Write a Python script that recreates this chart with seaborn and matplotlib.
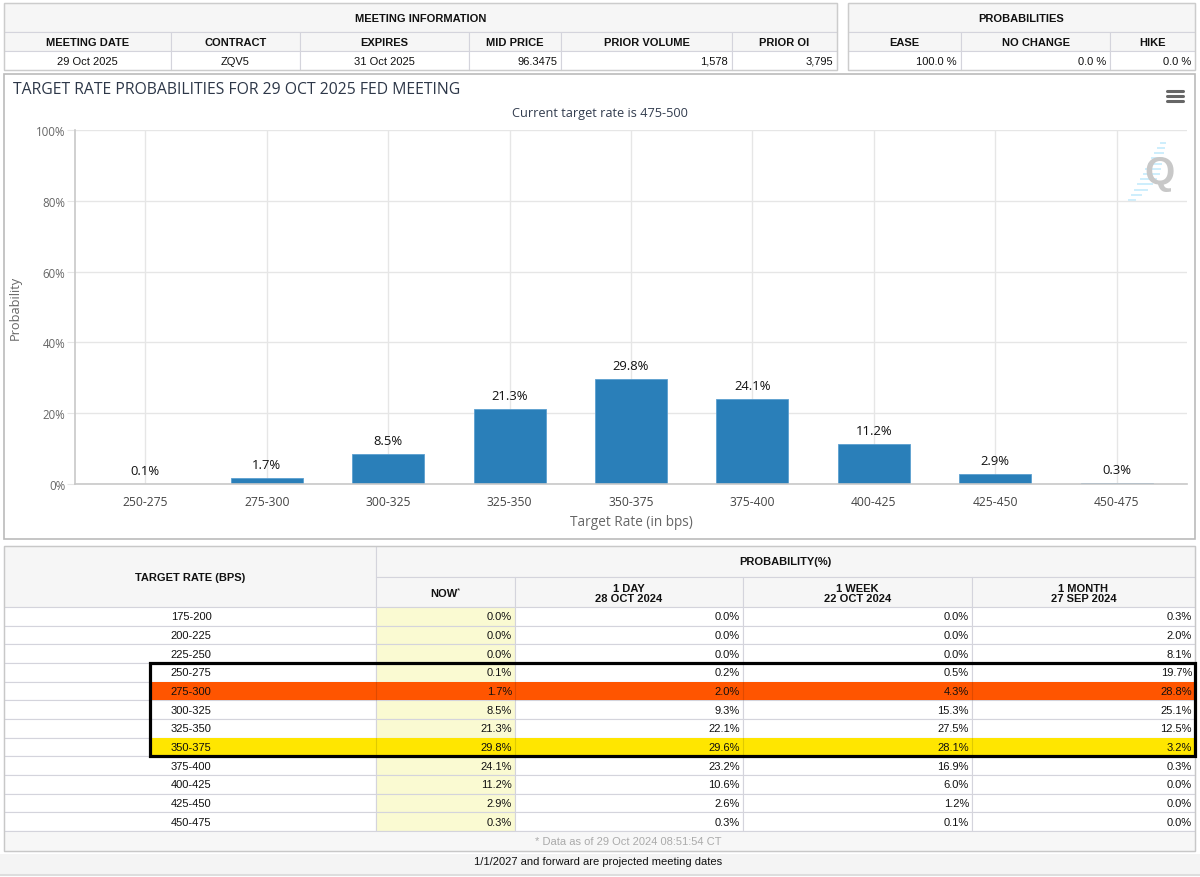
import matplotlib
matplotlib.use("Agg")
import matplotlib.pyplot as plt
import seaborn as sns
from matplotlib.patches import Rectangle

# ---------------- data ----------------
rate_bins = ["250-275", "275-300", "300-325", "325-350", "350-375",
             "375-400", "400-425", "425-450", "450-475"]
prob_now = [0.1, 1.7, 8.5, 21.3, 29.8, 24.1, 11.2, 2.9, 0.3]

table_bins = ["175-200", "200-225", "225-250", "250-275", "275-300", "300-325",
              "325-350", "350-375", "375-400", "400-425", "425-450", "450-475"]
tbl_now = [0.0, 0.0, 0.0, 0.1, 1.7, 8.5, 21.3, 29.8, 24.1, 11.2, 2.9, 0.3]
tbl_1day = [0.0, 0.0, 0.0, 0.2, 2.0, 9.3, 22.1, 29.6, 23.2, 10.6, 2.6, 0.3]
tbl_1week = [0.0, 0.0, 0.0, 0.5, 4.3, 15.3, 27.5, 28.1, 16.9, 6.0, 1.2, 0.1]
tbl_1month = [0.3, 2.0, 8.1, 19.7, 28.8, 25.1, 12.5, 3.2, 0.3, 0.0, 0.0, 0.0]

meeting_headers = ["MEETING DATE", "CONTRACT", "EXPIRES", "MID PRICE", "PRIOR VOLUME", "PRIOR OI"]
meeting_values = ["29 Oct 2025", "ZQV5", "31 Oct 2025", "96.3475", "1,578", "3,795"]
prob_headers = ["EASE", "NO CHANGE", "HIKE"]
prob_values = ["100.0 %", "0.0 %", "0.0 %"]

W, H = 1200, 878
TF = "Liberation Sans"
CF = "Open Sans"
LINE = "#d4d4dc"
HEAD = "#f6f6f6"

fig = plt.figure(figsize=(12, 8.78), dpi=100)
bg = fig.add_axes([0, 0, 1, 1])
bg.set_xlim(0, W)
bg.set_ylim(H, 0)
bg.axis("off")


def cell(x0, y0, x1, y1, fc="white", ec=LINE, lw=0.8, z=1):
    bg.add_patch(Rectangle((x0, y0), x1 - x0, y1 - y0, facecolor=fc,
                           edgecolor=ec, linewidth=lw, zorder=z))


def txt(x, y, s, ha="center", bold=False, size=8, color="#111111", **kw):
    bg.text(x, y, s, ha=ha, va="center", fontsize=size, color=color, family=TF,
            fontweight="bold" if bold else "normal", zorder=5, **kw)


# ---------------- top tables ----------------
edges = [4, 171, 300, 469, 561, 732, 837]
cell(edges[0], 4, edges[-1], 33, fc=HEAD, ec="#cccccc")
txt((edges[0] + edges[-1]) / 2, 19, "MEETING INFORMATION", bold=True)
for i, (h, v) in enumerate(zip(meeting_headers, meeting_values)):
    x0, x1 = edges[i], edges[i + 1]
    cell(x0, 33, x1, 52, fc=HEAD)
    cell(x0, 52, x1, 71)
    txt((x0 + x1) / 2, 43, h, bold=True)
    if i < 3:
        txt((x0 + x1) / 2, 62, v)
    else:
        txt(x1 - 4, 62, v, ha="right")
bg.add_patch(Rectangle((edges[0], 4), edges[-1] - edges[0], 67, fill=False,
                       edgecolor="#cccccc", linewidth=1, zorder=3))

pedges = [848, 961, 1110, 1195]
cell(pedges[0], 4, pedges[-1], 33, fc=HEAD, ec="#cccccc")
txt((pedges[0] + pedges[-1]) / 2, 19, "PROBABILITIES", bold=True)
for i, (h, v) in enumerate(zip(prob_headers, prob_values)):
    x0, x1 = pedges[i], pedges[i + 1]
    cell(x0, 33, x1, 52, fc=HEAD)
    cell(x0, 52, x1, 71)
    txt((x0 + x1) / 2, 43, h, bold=True)
    txt(x1 - 4, 62, v, ha="right")
bg.add_patch(Rectangle((pedges[0], 4), pedges[-1] - pedges[0], 67, fill=False,
                       edgecolor="#cccccc", linewidth=1, zorder=3))

# ---------------- chart panel ----------------
cell(4, 75, 1195, 540, fc="white", ec="#bbbbbb", lw=1.2)
bg.text(13, 90, "TARGET RATE PROBABILITIES FOR 29 OCT 2025 FED MEETING", ha="left",
        va="center", fontsize=11.3, color="#2d3748", family=CF, zorder=5)
bg.text(600, 113, "Current target rate is 475-500", ha="center", va="center",
        fontsize=9.2, color="#333d4f", family=CF, zorder=5)
for yy in (92, 97, 102):
    bg.plot([1167, 1183], [yy, yy], color="#666666", lw=2.2, solid_capstyle="round", zorder=5)
# watermark
stripe_len = [6, 9, 12, 14, 15, 15, 14, 12, 10, 8, 6, 4]
for k, ln in enumerate(stripe_len):
    yy = 201 - k * 5.2
    xs = 1129 + k * 2.9
    bg.plot([xs, xs + ln], [yy, yy], color="#cdeefc", lw=1.4, zorder=2)
bg.text(1159, 174, "Q", ha="center", va="center", fontsize=28, fontweight="bold",
        color="#c8c8c8", family=TF, zorder=3)

# bar chart axes
ax = fig.add_axes([75 / W, (H - 485) / H, (1187 - 75) / W, (485 - 131) / H])
ax.patch.set_alpha(0)
sns.barplot(x=rate_bins, y=prob_now, color="#2a7fb9", width=0.593,
            edgecolor="#5b9fd0", linewidth=0.6, saturation=1, ax=ax)
ax.set_xlim(-0.58, 8.58)
ax.set_ylim(0, 100)
ax.set_yticks(range(0, 101, 20))
ax.set_yticklabels([f"{v}%" for v in range(0, 101, 20)], family=CF, fontsize=8.3, color="#666666")
ax.set_xticks(range(len(rate_bins)))
ax.set_xticklabels(rate_bins, family=CF, fontsize=8.7, color="#444444")
ax.grid(True, color="#e6e6e6", lw=1)
ax.set_axisbelow(True)
for s in ("top", "right"):
    ax.spines[s].set_visible(False)
for s in ("left", "bottom"):
    ax.spines[s].set_color("#c8c8c8")
    ax.spines[s].set_linewidth(1.2)
ax.tick_params(axis="y", length=6, color="#e6e6e6", pad=1)
ax.tick_params(axis="x", length=0, pad=8)
ax.set_xlabel("Target Rate (in bps)", family=CF, fontsize=9.8, color="#666666", labelpad=4)
ax.set_ylabel("Probability", family=CF, fontsize=9.2, color="#666666")
ax.yaxis.set_label_coords((22 - 75) / (1187 - 75), 0.5)
ax.bar_label(ax.containers[0], labels=[f"{v}%" for v in prob_now], padding=5,
             family=CF, fontsize=9.4, color="#111111")

# ---------------- bottom table ----------------
bedges = [4, 376, 515, 743, 972, 1195]
top, h1, h2 = 547, 578, 608
rh = (832 - 608) / len(table_bins)
cell(bedges[0], top, bedges[1], h2, fc=HEAD)
txt((bedges[0] + bedges[1]) / 2, h1, "TARGET RATE (BPS)", bold=True)
cell(bedges[1], top, bedges[-1], h1, fc=HEAD)
txt((bedges[1] + bedges[-1]) / 2, (top + h1) / 2, "PROBABILITY(%)", bold=True)
sub_heads = ["NOW", "1 DAY\n28 OCT 2024", "1 WEEK\n22 OCT 2024", "1 MONTH\n27 SEP 2024"]
for i, s in enumerate(sub_heads):
    x0, x1 = bedges[i + 1], bedges[i + 2]
    cell(x0, h1, x1, h2, fc=HEAD)
    if i == 0:
        txt((x0 + x1) / 2 - 2, (h1 + h2) / 2 + 1, s, bold=True)
        txt((x0 + x1) / 2 + 13, (h1 + h2) / 2 - 2, "*", size=6)
    else:
        txt((x0 + x1) / 2, (h1 + h2) / 2 + 1, s, bold=True, linespacing=1.0)

cols = [tbl_now, tbl_1day, tbl_1week, tbl_1month]
for r, b in enumerate(table_bins):
    y0 = h2 + r * rh
    y1 = y0 + rh
    fill_row = {"275-300": "#ff5500", "350-375": "#ffe600"}.get(b)
    cell(bedges[0], y0, bedges[1], y1)
    for c in range(4):
        fc = "#fafad2" if c == 0 else "white"
        cell(bedges[c + 1], y0, bedges[c + 2], y1, fc=fc)
    if fill_row:
        bg.add_patch(Rectangle((150, y0), 1195 - 150, rh, facecolor=fill_row,
                               edgecolor="none", zorder=2))
        for xe in bedges[1:-1]:
            bg.plot([xe, xe], [y0, y1], color="#000000", alpha=0.12, lw=0.8, zorder=3)
    txt(191, (y0 + y1) / 2, b)
    for c in range(4):
        txt(bedges[c + 2] - 3, (y0 + y1) / 2, f"{cols[c][r]:.1f}%", ha="right")

# footer rows
cell(bedges[0], 832, bedges[-1], 852, fc="#f7f7f7")
txt(628, 842, "* Data as of 29 Oct 2024 08:51:54 CT", color="#aaaaaa")
bg.add_patch(Rectangle((bedges[0], 547), bedges[-1] - bedges[0], 852 - 547, fill=False,
                       edgecolor="#c8c8c8", linewidth=1, zorder=3))
bg.add_patch(Rectangle((0, 855), W, 21, facecolor="#f4f4f4", edgecolor="none", zorder=0))
bg.plot([0, W], [876, 876], color="#dddddd", lw=1.5, zorder=1)
txt(598, 862, "1/1/2027 and forward are projected meeting dates")

# selection box
i0 = table_bins.index("250-275")
i1 = table_bins.index("350-375")
bg.add_patch(Rectangle((150, h2 + i0 * rh), 1195 - 150, (i1 - i0 + 1) * rh, fill=False,
                       edgecolor="black", linewidth=2.3, zorder=6))

fig.savefig("out.png", dpi=100, facecolor="white")
